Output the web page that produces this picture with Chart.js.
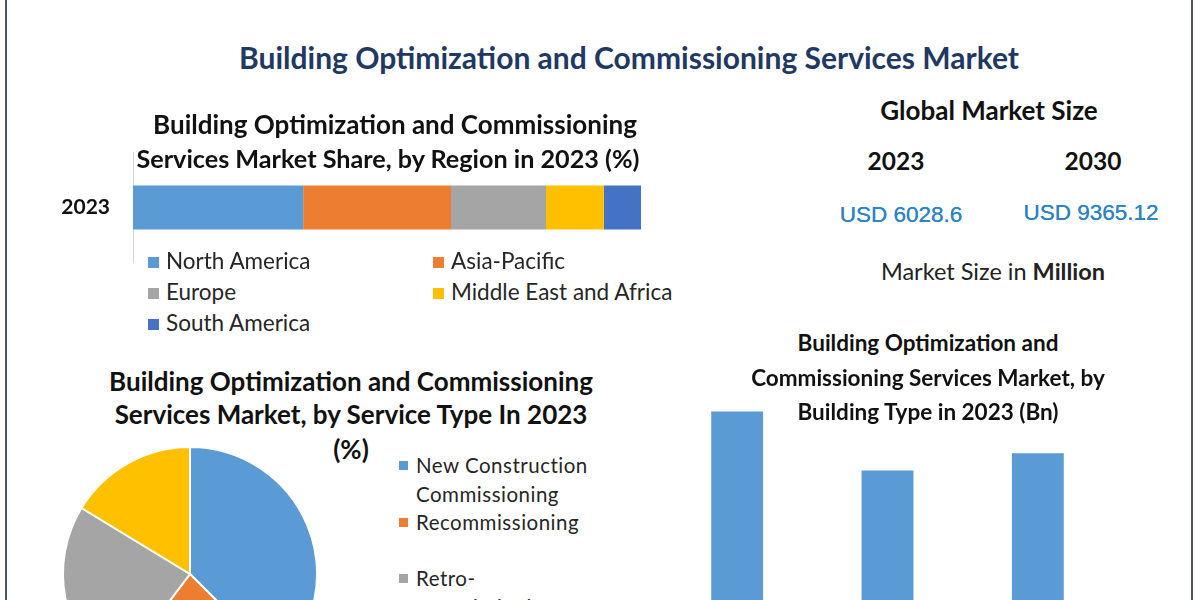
<!DOCTYPE html>
<html><head><meta charset="utf-8">
<script src="https://cdn.jsdelivr.net/npm/chart.js@4.4.0/dist/chart.umd.min.js"></script>
<style>
html,body{margin:0;padding:0;width:1200px;height:600px;overflow:hidden;background:#fff;font-family:Lato,"Open Sans",sans-serif;}
.box{position:absolute;}
.t{position:absolute;white-space:nowrap;transform:translateX(-50%);text-align:center;z-index:5;}
.lg{position:absolute;font-size:22.5px;color:#262626;z-index:5;}
.lg .it{position:absolute;white-space:nowrap;}
.lg .sq{display:inline-block;width:11px;height:11px;margin-right:7px;vertical-align:1px;}
.vline{position:absolute;top:0;height:600px;background:#4d565e;}
</style></head><body>
<div class="vline" style="left:5px;width:2px"></div>
<div class="vline" style="left:1191px;width:2px"></div>

<div class="box" style="left:60px;top:139.5px;width:581px;height:135px"><canvas id="regionChart"></canvas></div>
<div class="box" style="left:62px;top:446px;width:256px;height:256px"><canvas id="serviceChart"></canvas></div>
<div class="box" style="left:662px;top:385px;width:451px;height:265px"><canvas id="buildingChart"></canvas></div>
<div id="regionLegend" class="lg" style="left:148px;top:0"></div>
<div id="serviceLegend" class="lg" style="left:399px;top:0"></div>
<div id="texts"></div>

<script>
// ---- data ----
const regionYears = ['2023'];
const regionLabels = ['North America', 'Asia-Pacific', 'Europe', 'Middle East and Africa', 'South America'];
const regionShares = [33.5, 29.1, 18.7, 11.4, 7.3];

const serviceLabels = ['New Construction Commissioning', 'Recommissioning', 'Retro-commissioning', 'Ongoing Commissioning'];
const serviceShares = [37.5, 22.8, 23.4, 16.3];

const buildingLabels = ['Commercial', 'Residential', 'Industrial'];
const buildingValues = [2.34, 1.76, 1.93];

const marketYears = ['2023', '2030'];
const marketValues = ['USD 6028.6', 'USD 9365.12'];

// ---- styles ----
const palette = ['#5b9bd5', '#ed7d31', '#a5a5a5', '#ffc000', '#4472c4'];

// ---- texts ----
const usdFont = '"Liberation Sans", Arial, sans-serif';
const texts = [
  {s: 'Building Optimization and Commissioning Services Market', x: 629, y: 57, size: 30, w: 'bold', c: '#1f3864'},
  {s: 'Building Optimization and Commissioning', x: 395, y: 124, size: 26, w: 'bold', c: '#111'},
  {s: 'Services Market Share, by Region in 2023 (%)', x: 388, y: 158, size: 25.2, w: 'bold', c: '#111'},
  {s: 'Global Market Size', x: 989, y: 110, size: 26, w: 'bold', c: '#111'},
  {s: marketYears[0], x: 896, y: 161, size: 24.5, w: 'bold', c: '#111'},
  {s: marketYears[1], x: 1093, y: 161, size: 24.5, w: 'bold', c: '#111'},
  {s: marketValues[0], x: 901, y: 214, size: 22.5, w: 'normal', c: '#2b83c6', f: usdFont, sh: 1},
  {s: marketValues[1], x: 1091, y: 212, size: 22.5, w: 'normal', c: '#2b83c6', f: usdFont, sh: 1},
  {h: 'Market Size in <b>Million</b>', x: 993, y: 271, size: 23.5, w: 'normal', c: '#222'},
  {s: 'Building Optimization and', x: 928, y: 342, size: 22.5, w: 'bold', c: '#111'},
  {s: 'Commissioning Services Market, by', x: 928, y: 377, size: 22.5, w: 'bold', c: '#111'},
  {s: 'Building Type in 2023 (Bn)', x: 928, y: 411, size: 22.5, w: 'bold', c: '#111'},
  {s: 'Building Optimization and Commissioning', x: 351, y: 381, size: 26, w: 'bold', c: '#111'},
  {s: 'Services Market, by Service Type In 2023', x: 351, y: 414, size: 26, w: 'bold', c: '#111'},
  {s: '(%)', x: 351, y: 449, size: 26, w: 'bold', c: '#111'}
];
const tWrap = document.getElementById('texts');
texts.forEach(t => {
  const d = document.createElement('div');
  d.className = 't';
  const lh = Math.round(t.size * 1.3);
  d.style.cssText = `left:${t.x}px;top:${t.y - lh / 2}px;font-size:${t.size}px;line-height:${lh}px;font-weight:${t.w};color:${t.c};` +
    (t.f ? `font-family:${t.f};` : '') + (t.sh ? `text-shadow:0 0 0.6px ${t.c};` : '');
  if (t.h) d.innerHTML = t.h; else d.textContent = t.s;
  tWrap.appendChild(d);
});

// ---- legends (built from the same arrays) ----
const rl = document.getElementById('regionLegend');
regionLabels.forEach((l, i) => {
  const d = document.createElement('div');
  d.className = 'it';
  const col = i % 2, row = Math.floor(i / 2);
  d.style.left = (col * 285) + 'px';
  d.style.top = (261 + row * 31 - 14) + 'px';
  d.style.lineHeight = '28px';
  d.innerHTML = `<span class="sq" style="background:${palette[i]}"></span>${l}`;
  rl.appendChild(d);
});
const sl = document.getElementById('serviceLegend');
serviceLabels.forEach((l, i) => {
  const d = document.createElement('div');
  d.className = 'it';
  d.style.cssText = `left:0;top:${465 - 14 + i * 56.5}px;line-height:28.5px;white-space:normal;width:220px;font-size:20.5px;padding-left:17px;text-indent:-17px;letter-spacing:0.5px;`;
  d.innerHTML = `<span class="sq" style="background:${palette[i]};width:9px;height:9px;margin-right:8px;vertical-align:3px"></span>${l.replace(' Commissioning', '<br>Commissioning').replace('Retro-commissioning', 'Retro-<br>commissioning')}`;
  sl.appendChild(d);
});

Chart.defaults.animation = false;
Chart.defaults.font.family = 'Lato, sans-serif';

new Chart(document.getElementById('regionChart'), {
  type: 'bar',
  data: {
    labels: regionYears,
    datasets: regionLabels.map((l, i) => ({
      label: l, data: [regionShares[i]], backgroundColor: palette[i],
      barPercentage: 0.4, categoryPercentage: 1
    }))
  },
  options: {
    indexAxis: 'y', responsive: true, maintainAspectRatio: false,
    layout: {padding: 0},
    plugins: {legend: {display: false}, tooltip: {enabled: false}},
    scales: {
      x: {stacked: true, min: 0, max: 100, display: false},
      y: {
        stacked: true,
        grid: {display: false, drawTicks: true, tickLength: 21},
        border: {display: true, color: '#d4d4d4', width: 1},
        ticks: {color: '#111', font: {size: 21, weight: 'bold', lineHeight: 1}, padding: 2},
        afterFit(s) { s.width = 73; }
      }
    }
  }
});

new Chart(document.getElementById('serviceChart'), {
  type: 'pie',
  data: {
    labels: serviceLabels,
    datasets: [{data: serviceShares, backgroundColor: palette.slice(0, 4), borderColor: '#fff', borderWidth: 2}]
  },
  options: {
    responsive: true, maintainAspectRatio: false,
    layout: {padding: 0},
    plugins: {legend: {display: false}, tooltip: {enabled: false}}
  }
});

new Chart(document.getElementById('buildingChart'), {
  type: 'bar',
  data: {
    labels: buildingLabels,
    datasets: [{data: buildingValues, backgroundColor: '#5b9bd5', barPercentage: 0.345, categoryPercentage: 1}]
  },
  options: {
    responsive: true, maintainAspectRatio: false,
    layout: {padding: 0},
    plugins: {legend: {display: false}, tooltip: {enabled: false}},
    scales: {
      x: {display: false},
      y: {display: false, min: 0, max: 2.6}
    }
  }
});
</script>
</body></html>
